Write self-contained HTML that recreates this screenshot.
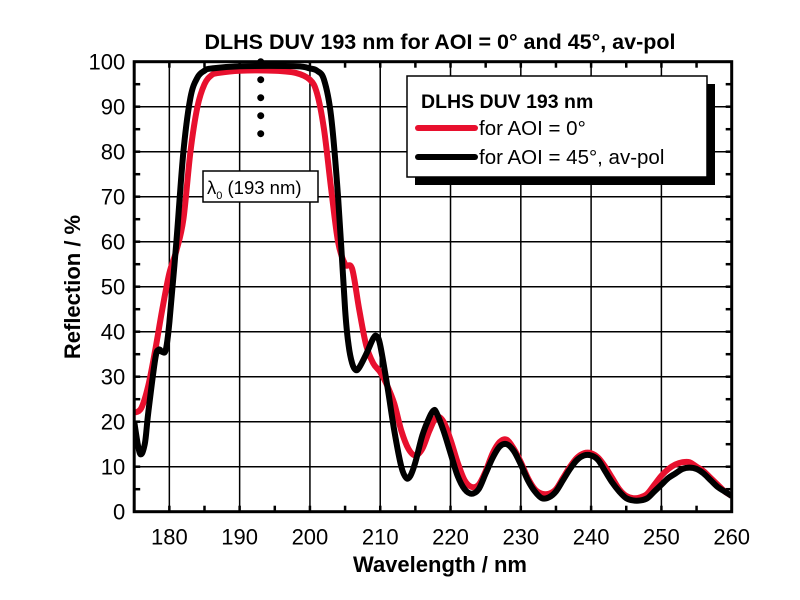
<!DOCTYPE html>
<html><head><meta charset="utf-8"><style>
body{margin:0;background:#fff}
svg{display:block;font-family:"Liberation Sans",Arial,sans-serif}
</style></head><body>
<svg id="chart" width="800" height="600">
<text x="440" y="49" text-anchor="middle" font-size="21.5" font-weight="bold">DLHS DUV 193 nm for AOI = 0° and 45°, av-pol</text>
<g id="grid"></g>
<g id="ticks"></g>
<g id="series"></g>
<text x="440" y="572" text-anchor="middle" font-size="22" font-weight="bold">Wavelength / nm</text>
<text transform="translate(80,287) rotate(-90)" text-anchor="middle" font-size="22" font-weight="bold">Reflection / %</text>
<g>
<rect x="203" y="171" width="115" height="31" fill="#fff" stroke="#000" stroke-width="1.5"/>
<text x="207" y="194" font-size="18.5">λ<tspan font-size="11" dy="5">0</tspan><tspan dy="-5"> (193 nm)</tspan></text>
</g>
<g>
<rect x="415" y="84" width="300" height="101" fill="#000"/>
<rect x="407" y="76" width="300" height="101" fill="#fff" stroke="#000" stroke-width="1.5"/>
<text x="421" y="108" font-size="19.5" font-weight="bold">DLHS DUV 193 nm</text>
<line x1="418" y1="128" x2="475" y2="128" stroke="#e8102e" stroke-width="6" stroke-linecap="round"/>
<text x="479" y="135" font-size="20.5">for AOI = 0°</text>
<line x1="418" y1="157" x2="475" y2="157" stroke="#000" stroke-width="6" stroke-linecap="round"/>
<text x="479" y="164" font-size="20.5">for AOI = 45°, av-pol</text>
</g>
</svg>
<script>
const xTicks=[180,190,200,210,220,230,240,250,260];
const yTicks=[0,10,20,30,40,50,60,70,80,90,100];
const wl0=[175,176,177,178,179,180,181,182,183,184,185,186,187,190,195,198,200,201,202,203,204,205,206,207,208,209,210,211,212,213,214,215,216,217,218,219,220,221,222,223,224,225,226,227,228,229,230,231,232,233,234,235,236,237,238,239,240,241,242,243,244,245,246,247,248,249,250,251,252,253,254,255,256,257,258,259,260];
const r0=[22,23,28,36,45,53,58,65,80,90,95,97,97.5,98,98,97.5,96,93,85,72,60,55,54,45,37,33,31,28,24,18,14,12.5,14,18,21,20,16,11,7,5.5,6,9,13,15.5,16,14,11,7.5,5,4,4,5,7.5,10,12,13,13,12,10,7.5,5,3.5,3,3.2,4,6,8,9.5,10.5,11,11,10,9,7.5,6,4.5,3.5];
const wl45=[175,175.8,176.5,177,178,178.5,179,179.5,180,181,182,183,184,185,186,190,198,200,201,202,203,204,205,205.5,206,206.5,207,208,209,209.5,210,211,212,213,213.7,214.3,215,216,217,217.6,218,219,220,221,222,223,224,225,226,227,228,229,230,231,232,233,234,235,236,237,238,239,240,241,242,243,244,245,246,247,248,249,250,251,252,253,254,255,256,257,258,259,260];
const r45=[20,13,15,22,34,36,35.5,36,42,60,80,92,96.5,98,98.5,99,99,98.5,98,96,88,70,45,37,33,31.5,32,35,38.5,39,37,28,18,10,7.5,8,11,17,21,22.5,22,18,13,8,5,4,5,8.5,12,14.5,15,13.5,10.5,7,4.5,3,3.2,4.5,7,9.5,11.5,12.5,12.5,11.5,9,6.5,4.5,3,2.5,2.5,3,4.5,6,7.5,8.5,9.5,9.8,9.5,8.5,7,5.5,4.5,3.5];
const lambda0=193;
const X0=134.2,X1=731.7,Y0=511.7,Y1=61.7,xmin=175,xmax=260,ymin=0,ymax=100;
const sx=v=>X0+(v-xmin)/(xmax-xmin)*(X1-X0);
const sy=v=>Y0-(v-ymin)/(ymax-ymin)*(Y0-Y1);
const NS='http://www.w3.org/2000/svg';
function mk(t,a,p){const e=document.createElementNS(NS,t);for(const k in a)e.setAttribute(k,a[k]);p.appendChild(e);return e;}
const grid=document.getElementById('grid'),ticks=document.getElementById('ticks'),series=document.getElementById('series');
xTicks.forEach(v=>{
 const l=mk('line',{x1:sx(v),x2:sx(v),y1:Y1,y2:Y0,stroke:'#000','stroke-width':1.5},grid);
 
 
 const t=mk('text',{x:sx(v),y:Y0+33,'text-anchor':'middle','font-size':22},ticks);t.textContent=v;
 
 
});
yTicks.forEach(v=>{
 const l=mk('line',{x1:X0,x2:X1,y1:sy(v),y2:sy(v),stroke:'#000','stroke-width':1.5},grid);
 
 
 const t=mk('text',{x:X0-9,y:sy(v)+8,'text-anchor':'end','font-size':22},ticks);t.textContent=v;
 
 
});
for(let v=175;v<=260;v+=5){mk('line',{x1:sx(v),x2:sx(v),y1:Y0,y2:Y0-6,stroke:'#000','stroke-width':2.5},ticks);mk('line',{x1:sx(v),x2:sx(v),y1:Y1,y2:Y1+6,stroke:'#000','stroke-width':2.5},ticks);}
for(let v=0;v<=100;v+=5){mk('line',{x1:X0,x2:X0+6,y1:sy(v),y2:sy(v),stroke:'#000','stroke-width':2.5},ticks);mk('line',{x1:X1,x2:X1-6,y1:sy(v),y2:sy(v),stroke:'#000','stroke-width':2.5},ticks);}
function pathOf(xs,ys){
 const P=xs.map((x,i)=>[sx(x),sy(ys[i])]);
 let d='M'+P[0][0]+','+P[0][1];
 for(let i=0;i<P.length-1;i++){
  const p0=P[Math.max(0,i-1)],p1=P[i],p2=P[i+1],p3=P[Math.min(P.length-1,i+2)];
  const c1=[p1[0]+(p2[0]-p0[0])/6,p1[1]+(p2[1]-p0[1])/6],c2=[p2[0]-(p3[0]-p1[0])/6,p2[1]-(p3[1]-p1[1])/6];
  d+=`C${c1[0]},${c1[1]} ${c2[0]},${c2[1]} ${p2[0]},${p2[1]}`;
 }
 return d;
}
const cp=mk('clipPath',{id:'clip'},series);mk('rect',{x:X0,y:Y1-5,width:X1-X0,height:Y0-Y1+5},cp);
const red=mk('path',{d:pathOf(wl0,r0),fill:'none',stroke:'#e8102e','stroke-width':6,'stroke-linejoin':'round','clip-path':'url(#clip)'},series);


const blk=mk('path',{d:pathOf(wl45,r45),fill:'none',stroke:'#000','stroke-width':6,'stroke-linejoin':'round','clip-path':'url(#clip)'},series);


const dl=mk('line',{x1:sx(lambda0),x2:sx(lambda0),y1:sy(100),y2:sy(80),stroke:'#000','stroke-width':7,'stroke-linecap':'round','stroke-dasharray':'0 18'},series);


mk('rect',{x:X0,y:Y1,width:X1-X0,height:Y0-Y1,fill:'none',stroke:'#000','stroke-width':3},series);
</script>
</body></html>
